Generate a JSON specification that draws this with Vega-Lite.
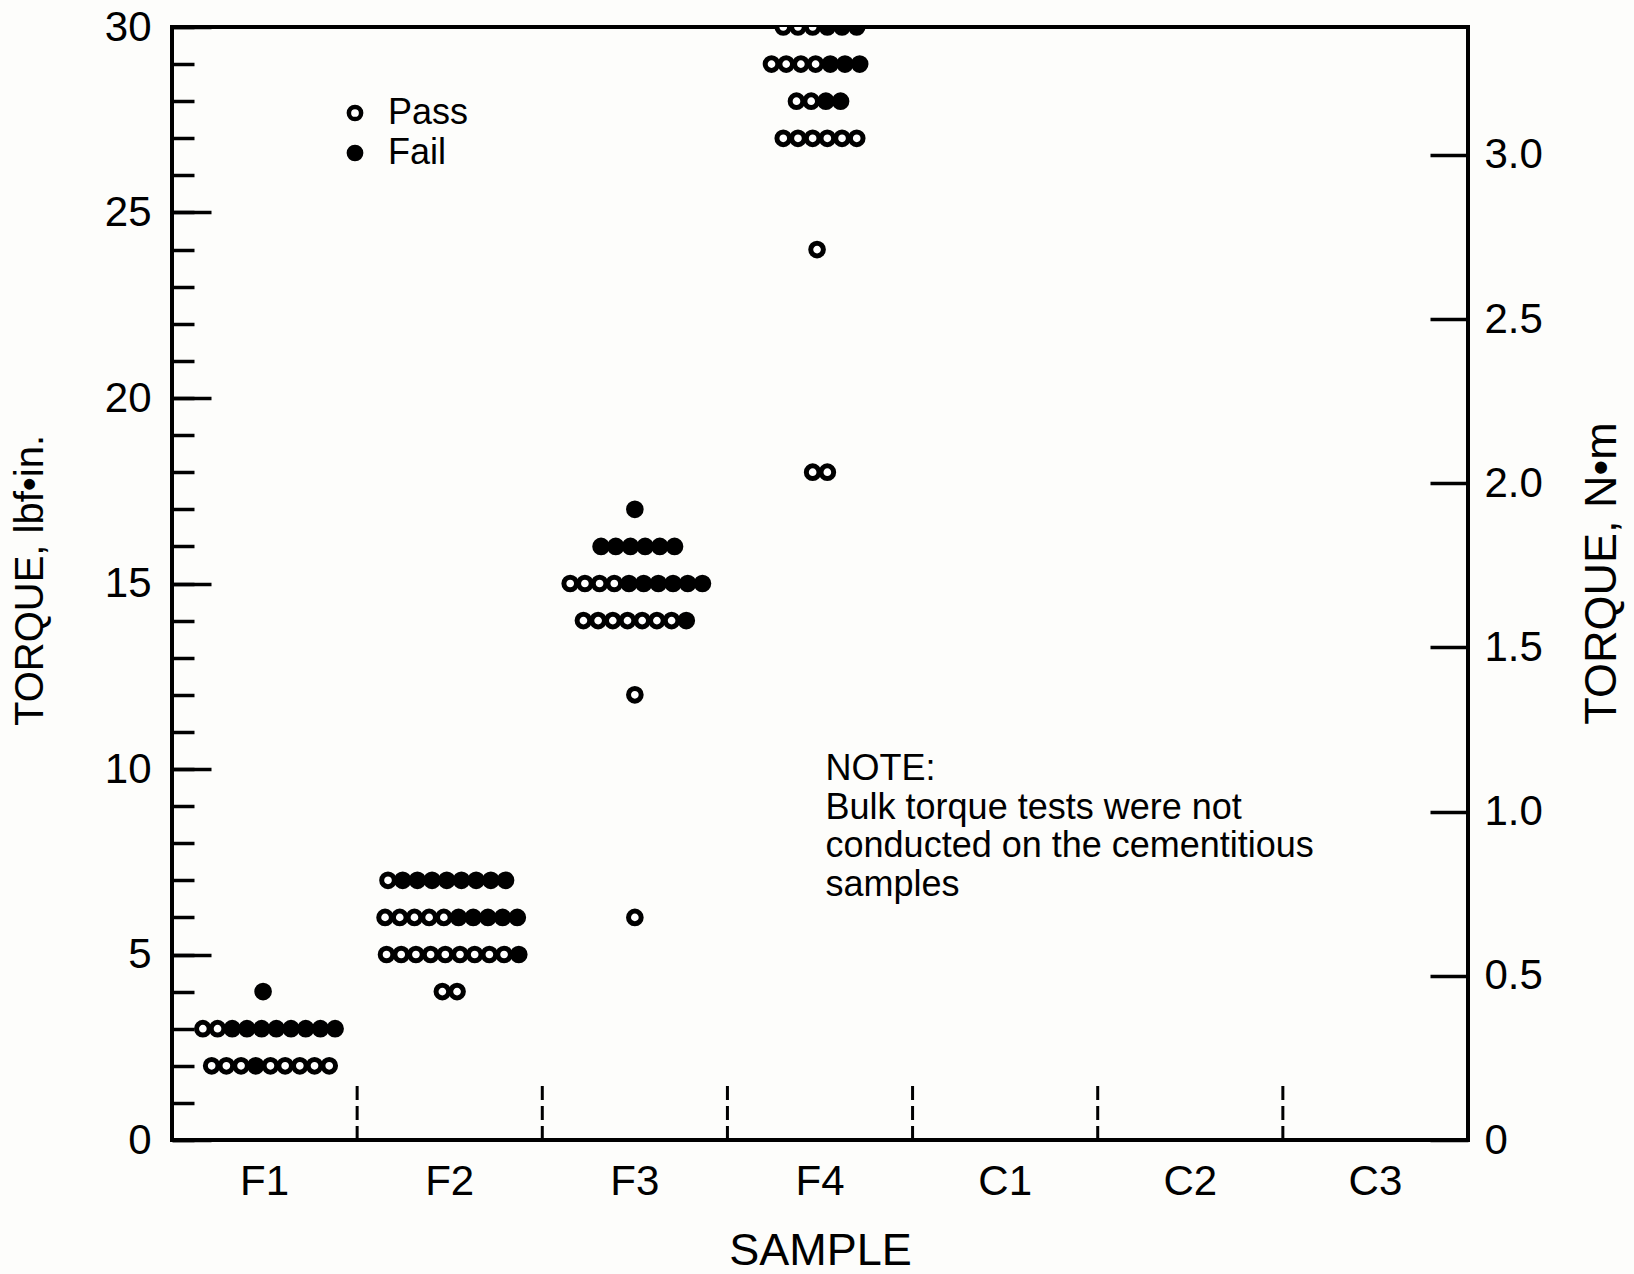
{
  "$schema": "https://vega.github.io/schema/vega-lite/v6.json",
  "width": 1296,
  "height": 1113,
  "autosize": {"type": "none"},
  "padding": {"left": 172, "top": 27, "right": 166, "bottom": 134},
  "background": "#fdfdfb",
  "config": {
    "view": {"stroke": "black", "strokeWidth": 4},
    "font": "Liberation Sans",
    "axis": {"grid": false, "domain": false, "labelColor": "black", "titleColor": "black", "tickColor": "black", "labelFont": "Liberation Sans", "titleFont": "Liberation Sans", "titleFontWeight": "normal", "labelOverlap": false, "labelBound": false, "labelFlush": false}
  },
  "datasets": {
    "dots": [
      {"sample": "F1", "torque": 4, "result": "Fail", "slot": -0.1},
      {"sample": "F1", "torque": 3, "result": "Pass", "slot": -4.2},
      {"sample": "F1", "torque": 3, "result": "Pass", "slot": -3.2},
      {"sample": "F1", "torque": 3, "result": "Fail", "slot": -2.2},
      {"sample": "F1", "torque": 3, "result": "Fail", "slot": -1.2},
      {"sample": "F1", "torque": 3, "result": "Fail", "slot": -0.2},
      {"sample": "F1", "torque": 3, "result": "Fail", "slot": 0.8},
      {"sample": "F1", "torque": 3, "result": "Fail", "slot": 1.8},
      {"sample": "F1", "torque": 3, "result": "Fail", "slot": 2.8},
      {"sample": "F1", "torque": 3, "result": "Fail", "slot": 3.8},
      {"sample": "F1", "torque": 3, "result": "Fail", "slot": 4.8},
      {"sample": "F1", "torque": 2, "result": "Pass", "slot": -3.6},
      {"sample": "F1", "torque": 2, "result": "Pass", "slot": -2.6},
      {"sample": "F1", "torque": 2, "result": "Pass", "slot": -1.6},
      {"sample": "F1", "torque": 2, "result": "Fail", "slot": -0.6},
      {"sample": "F1", "torque": 2, "result": "Pass", "slot": 0.4},
      {"sample": "F1", "torque": 2, "result": "Pass", "slot": 1.4},
      {"sample": "F1", "torque": 2, "result": "Pass", "slot": 2.4},
      {"sample": "F1", "torque": 2, "result": "Pass", "slot": 3.4},
      {"sample": "F1", "torque": 2, "result": "Pass", "slot": 4.4},
      {"sample": "F2", "torque": 7, "result": "Pass", "slot": -4.2},
      {"sample": "F2", "torque": 7, "result": "Fail", "slot": -3.2},
      {"sample": "F2", "torque": 7, "result": "Fail", "slot": -2.2},
      {"sample": "F2", "torque": 7, "result": "Fail", "slot": -1.2},
      {"sample": "F2", "torque": 7, "result": "Fail", "slot": -0.2},
      {"sample": "F2", "torque": 7, "result": "Fail", "slot": 0.8},
      {"sample": "F2", "torque": 7, "result": "Fail", "slot": 1.8},
      {"sample": "F2", "torque": 7, "result": "Fail", "slot": 2.8},
      {"sample": "F2", "torque": 7, "result": "Fail", "slot": 3.8},
      {"sample": "F2", "torque": 6, "result": "Pass", "slot": -4.4},
      {"sample": "F2", "torque": 6, "result": "Pass", "slot": -3.4},
      {"sample": "F2", "torque": 6, "result": "Pass", "slot": -2.4},
      {"sample": "F2", "torque": 6, "result": "Pass", "slot": -1.4},
      {"sample": "F2", "torque": 6, "result": "Pass", "slot": -0.4},
      {"sample": "F2", "torque": 6, "result": "Fail", "slot": 0.6},
      {"sample": "F2", "torque": 6, "result": "Fail", "slot": 1.6},
      {"sample": "F2", "torque": 6, "result": "Fail", "slot": 2.6},
      {"sample": "F2", "torque": 6, "result": "Fail", "slot": 3.6},
      {"sample": "F2", "torque": 6, "result": "Fail", "slot": 4.6},
      {"sample": "F2", "torque": 5, "result": "Pass", "slot": -4.3},
      {"sample": "F2", "torque": 5, "result": "Pass", "slot": -3.3},
      {"sample": "F2", "torque": 5, "result": "Pass", "slot": -2.3},
      {"sample": "F2", "torque": 5, "result": "Pass", "slot": -1.3},
      {"sample": "F2", "torque": 5, "result": "Pass", "slot": -0.3},
      {"sample": "F2", "torque": 5, "result": "Pass", "slot": 0.7},
      {"sample": "F2", "torque": 5, "result": "Pass", "slot": 1.7},
      {"sample": "F2", "torque": 5, "result": "Pass", "slot": 2.7},
      {"sample": "F2", "torque": 5, "result": "Pass", "slot": 3.7},
      {"sample": "F2", "torque": 5, "result": "Fail", "slot": 4.7},
      {"sample": "F2", "torque": 4, "result": "Pass", "slot": -0.5},
      {"sample": "F2", "torque": 4, "result": "Pass", "slot": 0.5},
      {"sample": "F3", "torque": 17, "result": "Fail", "slot": 0},
      {"sample": "F3", "torque": 16, "result": "Fail", "slot": -2.3},
      {"sample": "F3", "torque": 16, "result": "Fail", "slot": -1.3},
      {"sample": "F3", "torque": 16, "result": "Fail", "slot": -0.3},
      {"sample": "F3", "torque": 16, "result": "Fail", "slot": 0.7},
      {"sample": "F3", "torque": 16, "result": "Fail", "slot": 1.7},
      {"sample": "F3", "torque": 16, "result": "Fail", "slot": 2.7},
      {"sample": "F3", "torque": 15, "result": "Pass", "slot": -4.4},
      {"sample": "F3", "torque": 15, "result": "Pass", "slot": -3.4},
      {"sample": "F3", "torque": 15, "result": "Pass", "slot": -2.4},
      {"sample": "F3", "torque": 15, "result": "Pass", "slot": -1.4},
      {"sample": "F3", "torque": 15, "result": "Fail", "slot": -0.4},
      {"sample": "F3", "torque": 15, "result": "Fail", "slot": 0.6},
      {"sample": "F3", "torque": 15, "result": "Fail", "slot": 1.6},
      {"sample": "F3", "torque": 15, "result": "Fail", "slot": 2.6},
      {"sample": "F3", "torque": 15, "result": "Fail", "slot": 3.6},
      {"sample": "F3", "torque": 15, "result": "Fail", "slot": 4.6},
      {"sample": "F3", "torque": 14, "result": "Pass", "slot": -3.5},
      {"sample": "F3", "torque": 14, "result": "Pass", "slot": -2.5},
      {"sample": "F3", "torque": 14, "result": "Pass", "slot": -1.5},
      {"sample": "F3", "torque": 14, "result": "Pass", "slot": -0.5},
      {"sample": "F3", "torque": 14, "result": "Pass", "slot": 0.5},
      {"sample": "F3", "torque": 14, "result": "Pass", "slot": 1.5},
      {"sample": "F3", "torque": 14, "result": "Pass", "slot": 2.5},
      {"sample": "F3", "torque": 14, "result": "Fail", "slot": 3.5},
      {"sample": "F3", "torque": 12, "result": "Pass", "slot": 0},
      {"sample": "F3", "torque": 6, "result": "Pass", "slot": 0},
      {"sample": "F4", "torque": 30, "result": "Pass", "slot": -2.5},
      {"sample": "F4", "torque": 30, "result": "Pass", "slot": -1.5},
      {"sample": "F4", "torque": 30, "result": "Pass", "slot": -0.5},
      {"sample": "F4", "torque": 30, "result": "Fail", "slot": 0.5},
      {"sample": "F4", "torque": 30, "result": "Fail", "slot": 1.5},
      {"sample": "F4", "torque": 30, "result": "Fail", "slot": 2.5},
      {"sample": "F4", "torque": 29, "result": "Pass", "slot": -3.3},
      {"sample": "F4", "torque": 29, "result": "Pass", "slot": -2.3},
      {"sample": "F4", "torque": 29, "result": "Pass", "slot": -1.3},
      {"sample": "F4", "torque": 29, "result": "Pass", "slot": -0.3},
      {"sample": "F4", "torque": 29, "result": "Fail", "slot": 0.7},
      {"sample": "F4", "torque": 29, "result": "Fail", "slot": 1.7},
      {"sample": "F4", "torque": 29, "result": "Fail", "slot": 2.7},
      {"sample": "F4", "torque": 28, "result": "Pass", "slot": -1.6},
      {"sample": "F4", "torque": 28, "result": "Pass", "slot": -0.6},
      {"sample": "F4", "torque": 28, "result": "Fail", "slot": 0.4},
      {"sample": "F4", "torque": 28, "result": "Fail", "slot": 1.4},
      {"sample": "F4", "torque": 27, "result": "Pass", "slot": -2.5},
      {"sample": "F4", "torque": 27, "result": "Pass", "slot": -1.5},
      {"sample": "F4", "torque": 27, "result": "Pass", "slot": -0.5},
      {"sample": "F4", "torque": 27, "result": "Pass", "slot": 0.5},
      {"sample": "F4", "torque": 27, "result": "Pass", "slot": 1.5},
      {"sample": "F4", "torque": 27, "result": "Pass", "slot": 2.5},
      {"sample": "F4", "torque": 24, "result": "Pass", "slot": -0.2},
      {"sample": "F4", "torque": 18, "result": "Pass", "slot": -0.5},
      {"sample": "F4", "torque": 18, "result": "Pass", "slot": 0.5}
    ],
    "separators": [
      {"sample": "F2"}, {"sample": "F3"}, {"sample": "F4"}, {"sample": "C1"}, {"sample": "C2"}, {"sample": "C3"}
    ],
    "notes": [
      {"sample": "F4", "torque": 9.7, "note": "NOTE:\nBulk torque tests were not\nconducted on the cementitious\nsamples"}
    ]
  },
  "layer": [
    {
      "layer": [
        {
          "data": {"name": "dots"},
          "mark": {"type": "point", "shape": "circle", "size": 160, "strokeWidth": 5, "stroke": "black", "opacity": 1, "clip": true},
          "encoding": {
            "x": {
              "field": "sample", "type": "nominal",
              "scale": {"domain": ["F1", "F2", "F3", "F4", "C1", "C2", "C3"], "paddingInner": 0, "paddingOuter": 0},
              "axis": {"orient": "bottom", "title": "SAMPLE", "titleFontSize": 45, "titleY": 124, "titleBaseline": "alphabetic", "labelFontSize": 42, "labelPadding": 21, "ticks": false, "labelAngle": 0}
            },
            "xOffset": {"field": "slot", "type": "quantitative", "scale": {"domain": [-6.3, 6.3], "range": [0, 185.14], "nice": false, "zero": false}},
            "y": {
              "field": "torque", "type": "quantitative",
              "scale": {"domain": [0, 30], "nice": false},
              "axis": {
                "orient": "left",
                "values": [0,1,2,3,4,5,6,7,8,9,10,11,12,13,14,15,16,17,18,19,20,21,22,23,24,25,26,27,28,29,30],
                "tickCount": 40,
                "title": "TORQUE, lbf•in.", "titleFontSize": 40, "titleAngle": -90, "titleX": -142, "titleY": 553, "titleAlign": "center", "titleBaseline": "middle",
                "labelFontSize": 42, "labelPadding": 43, "tickSize": -22, "tickWidth": 3.5, "labelOverlap": false,
                "labelExpr": "datum.value % 5 === 0 ? datum.label : ''"
              }
            },
            "fill": {
              "field": "result", "type": "nominal",
              "scale": {"domain": ["Pass", "Fail"], "range": ["white", "black"]},
              "legend": {"title": null, "orient": "none", "legendX": 165, "legendY": 68, "labelFontSize": 36, "labelFont": "Liberation Sans", "labelColor": "black", "symbolType": "circle", "symbolSize": 150, "symbolStrokeWidth": 4.5, "symbolStrokeColor": "black", "symbolOpacity": 1, "labelOffset": 15, "rowPadding": 4, "padding": 0}
            }
          }
        },
        {
          "data": {"name": "separators"},
          "mark": {"type": "rule", "strokeDash": [14, 6], "strokeWidth": 3, "color": "black"},
          "encoding": {
            "x": {"field": "sample", "type": "nominal", "bandPosition": 0, "scale": {"domain": ["F1", "F2", "F3", "F4", "C1", "C2", "C3"], "paddingInner": 0, "paddingOuter": 0}},
            "y": {"datum": 0, "type": "quantitative", "scale": {"domain": [0, 30], "nice": false}},
            "y2": {"datum": 1.5}
          }
        },
        {
          "data": {"name": "notes"},
          "mark": {"type": "text", "align": "left", "baseline": "alphabetic", "fontSize": 36, "lineHeight": 38.6, "lineBreak": "\n", "color": "black", "font": "Liberation Sans"},
          "encoding": {
            "x": {"field": "sample", "type": "nominal", "bandPosition": 0.53, "scale": {"domain": ["F1", "F2", "F3", "F4", "C1", "C2", "C3"], "paddingInner": 0, "paddingOuter": 0}},
            "y": {"field": "torque", "type": "quantitative", "scale": {"domain": [0, 30], "nice": false}},
            "text": {"field": "note"}
          }
        }
      ]
    },
    {
      "data": {"name": "dots"},
      "mark": {"type": "point", "opacity": 0},
      "encoding": {
        "y": {
          "datum": 0, "type": "quantitative",
          "scale": {"domain": [0, 30], "nice": false},
          "axis": {
            "orient": "left",
            "values": [0, 5, 10, 15, 20, 25, 30],
            "tickCount": 10,
            "title": null, "labels": false,
            "tickSize": -39, "tickWidth": 3.5
          }
        }
      }
    },
    {
      "data": {"name": "dots"},
      "mark": {"type": "point", "opacity": 0},
      "encoding": {
        "y": {
          "datum": 0, "type": "quantitative",
          "scale": {"domain": [0, 3.38954], "nice": false},
          "axis": {
            "orient": "right",
            "values": [0, 0.5, 1, 1.5, 2, 2.5, 3],
            "tickCount": 10,
            "title": "TORQUE, N•m", "titleFontSize": 45, "titleAngle": -90, "titleX": 133, "titleY": 546, "titleAlign": "center", "titleBaseline": "middle",
            "labelFontSize": 42, "tickSize": -38, "labelPadding": 54, "tickWidth": 3.5, "labelOverlap": false,
            "labelExpr": "datum.value === 0 ? '0' : format(datum.value, '.1f')"
          }
        }
      }
    }
  ],
  "resolve": {"scale": {"y": "independent"}, "axis": {"y": "independent"}}
}
